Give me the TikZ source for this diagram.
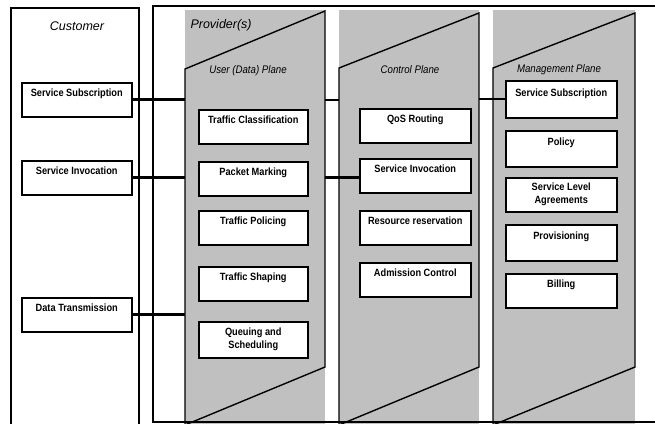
\documentclass[tikz,border=0pt]{standalone}
\usepackage{fontspec}
\setmainfont{Liberation Sans}
\newfontfamily\narrowfont[FakeStretch=0.88]{Liberation Sans}
\usetikzlibrary{positioning,calc}
\definecolor{PlaneGray}{RGB}{192,192,192}
\tikzset{
  frame/.style={draw=black,line width=1.6pt},
  plane/.style={fill=PlaneGray},
  rim/.style={draw=black,line width=1.4pt,line join=miter},
  cell/.style={draw=black,fill=white,line width=1.5pt,inner sep=0pt,anchor=north west,
    minimum width=110pt,minimum height=34pt,font=\narrowfont\fontsize{10.5}{13}\selectfont\bfseries},
  fn/.style={cell,text height=14pt,text depth=20pt},
  fn2/.style={cell,align=center},
}
\tikzset{title/.style={font=\fontsize{12.5}{14}\selectfont\itshape}, pname/.style={font=\narrowfont\fontsize{11}{12}\selectfont\itshape},
  link/.style={draw=black,line width=1.6pt}, fat/.style={draw=black,line width=3.3pt}}

\begin{document}
\begin{tikzpicture}[x=1pt,y=-1pt]
\useasboundingbox (0,0) rectangle (655,423);
\clip (0,0) rectangle (655,423);
\coordinate (uL) at (185,0);\coordinate (uR) at (325,0);
\coordinate (kL) at (339,0);\coordinate (kR) at (479,0);
\coordinate (mL) at (493,0);\coordinate (mR) at (635,0);
% planes
\fill[plane] (185,10) rectangle (325,424);\draw[rim] (185,69) -- (325,11) -- (325,367) -- (185,425) -- cycle;
\fill[plane] (339,10) rectangle (479,424);\draw[rim] (339,68) -- (479,13) -- (479,367) -- (339,425) -- cycle;
\fill[plane] (493,10) rectangle (635,424);\draw[rim] (493,68) -- (635,13) -- (635,367) -- (493,425) -- cycle;
\draw[frame] (11,426) |- (139,8) -- (139,426);
\draw[frame] (662,6) -| (153,422) -- (662,422);
\node[title] (cust) at (77,26) {Customer};
\node[title,anchor=west] (prov) at (187,25) {Provider(s)};
\node[pname] (uName) at (248,71) {User (Data) Plane};
\node[pname] (kName) at (410,70) {Control Plane};
\node[pname] (mName) at (559,70) {Management Plane};
% customer
\node[fn] (cSub) at (21,82) {Service Subscription};
\node[fn] (cInv) at (21,160) {Service Invocation};
\node[fn] (cData) at (21,297) {Data Transmission};
% user plane
\node[fn,minimum width=109pt] (uClass) at (198,109) {Traffic Classification};
\node[fn,minimum width=109pt] (uMark) at (198,161) {Packet Marking};
\node[fn,minimum width=109pt] (uPol) at (198,210) {Traffic Policing};
\node[fn,minimum width=109pt] (uShape) at (198,266) {Traffic Shaping};
\node[fn2,minimum width=109pt,minimum height=36pt] (uQueue) at (198,321) {Queuing and\\Scheduling};
% control plane
\node[fn,minimum width=111pt] (kRoute) at (359,108) {QoS Routing};
\node[fn,minimum width=111pt] (kInv) at (359,158) {Service Invocation};
\node[fn,minimum width=111pt] (kRes) at (359,210) {Resource reservation};
\node[fn,minimum width=111pt] (kAdm) at (359,262) {Admission Control};
% management plane
\node[fn,minimum width=111pt,minimum height=37pt] (mSub) at (505,80) {Service Subscription};
\node[fn,minimum width=111pt,minimum height=36pt] (mPol) at (505,130) {Policy};
\node[fn2,minimum width=111pt] (mSla) at (505,177) {Service Level\\Agreements};
\node[fn,minimum width=111pt,minimum height=36pt] (mProv) at (505,224) {Provisioning};
\node[fn,minimum width=111pt,minimum height=33pt] (mBill) at (505,273) {Billing};
% connectors
\draw[link,line width=2.6pt] (cSub.east) -- (cSub.east -| uL);
\draw[link] (cSub.east -| uR) -- (cSub.east -| kL) (mSub.west -| kR) -- (mSub.west);
\draw[fat] (cInv.east) -- (cInv.east -| uL);
\draw[fat] (cInv.east -| uR) -- (cInv.east -| kInv.west);
\draw[link,line width=2.6pt] (cData.east) -- (cData.east -| uL);
\end{tikzpicture}
\end{document}
